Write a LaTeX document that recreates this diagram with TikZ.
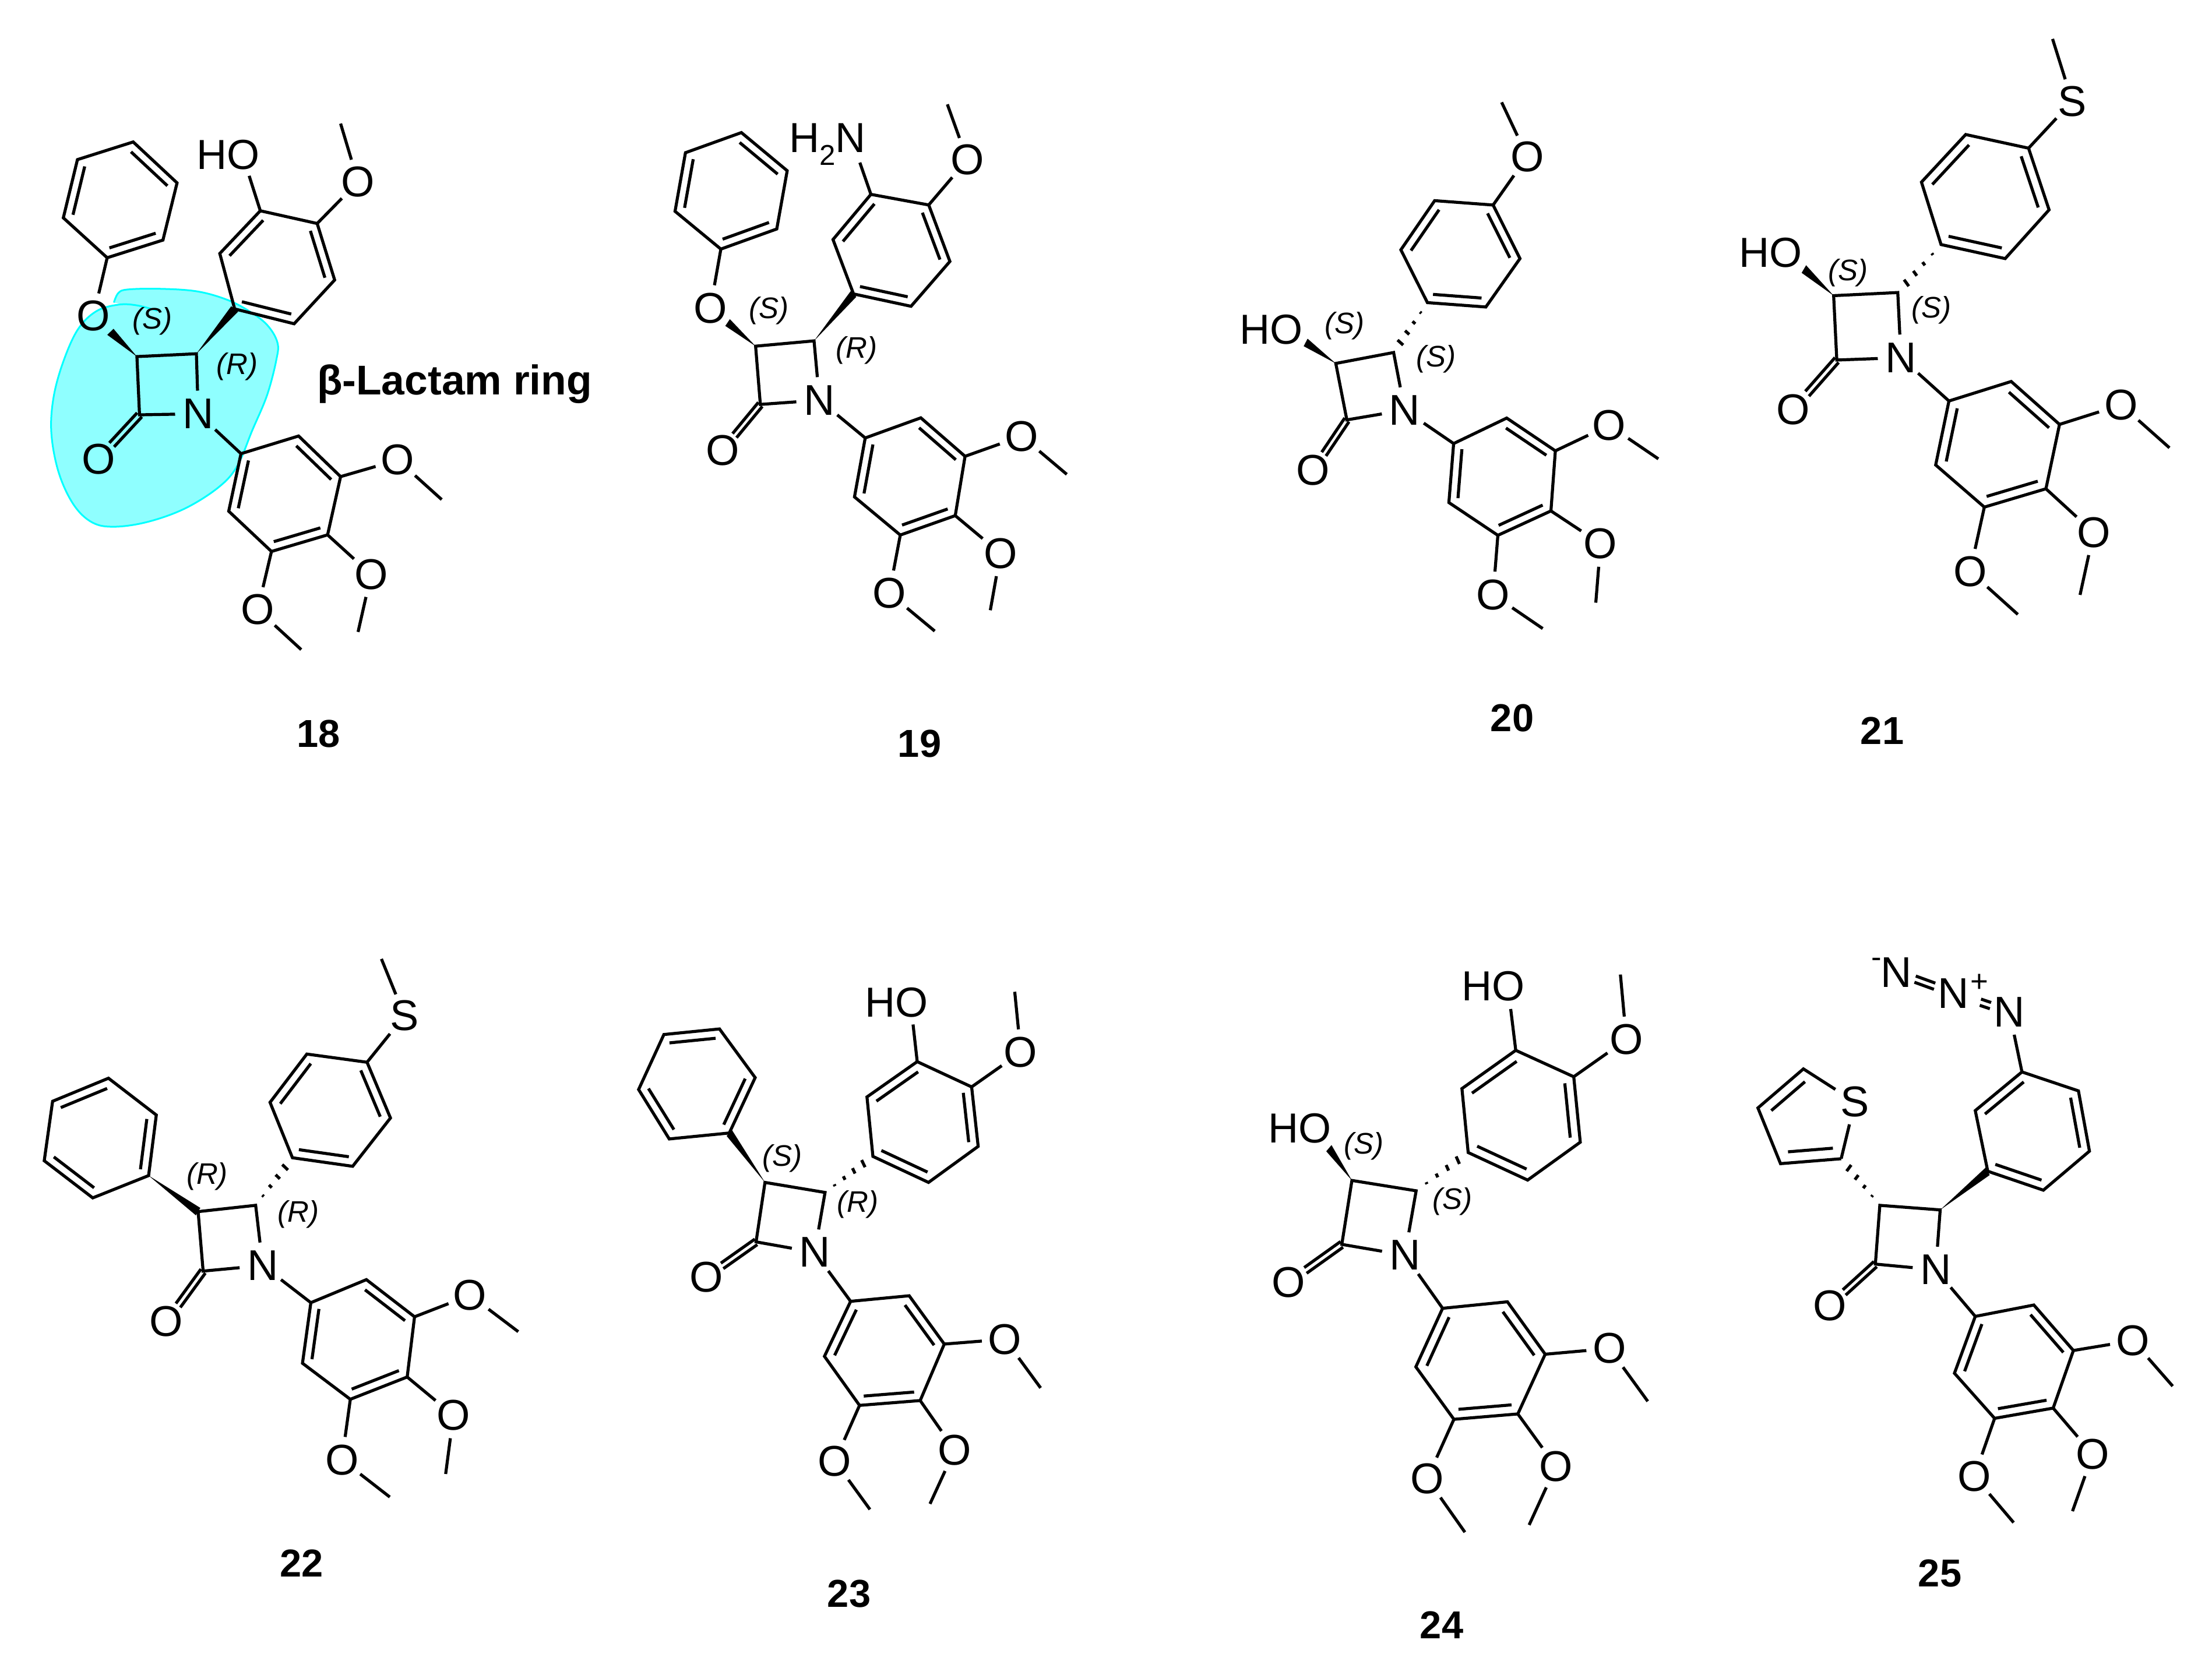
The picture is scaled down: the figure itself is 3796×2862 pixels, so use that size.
\documentclass[tikz,border=0pt]{standalone}
\usepackage{fontspec}
\setmainfont{Liberation Sans}
\usetikzlibrary{calc}
\definecolor{blobline}{RGB}{0,255,255}
\definecolor{blobfill}{RGB}{143,255,255}
\tikzset{
    bond/.style={line width=0.052cm},
    atom/.style={circle,inner sep=0pt,minimum size=0.78cm,font=\fontsize{21}{24}\selectfont},
    group/.style={inner sep=0pt,font=\fontsize{20.5}{24}\selectfont},
    stereo/.style={inner sep=0pt,font=\fontsize{14.5}{16}\selectfont\itshape},
    charge/.style={inner sep=0pt,font=\fontsize{15}{17}\selectfont},
    cpd/.style={inner sep=0pt,font=\fontsize{19}{22}\selectfont\bfseries}
}
%% two lines either side of the axis a-b
\newcommand{\dbond}[4]{
    \draw[bond] ($(#1)!#3!(#2)!.085cm!90:(#2)$) -- ($(#1)!#4!(#2)!.085cm!90:(#2)$);
    \draw[bond] ($(#1)!#3!(#2)!.085cm!-90:(#2)$) -- ($(#1)!#4!(#2)!.085cm!-90:(#2)$);
}
\newcommand{\innerbond}[4][.83]{\draw[bond] ($(#4)!#1!(#2)$) -- ($(#4)!#1!(#3)$);}
%% six-ring, double bonds on 1-2, 3-4, 5-6
\newcommand{\ringbonds}[1]{
    \coordinate (#1c) at ($(#11)!.5!(#14)$);
    \draw[bond] (#11) -- (#12) -- (#13) -- (#14) -- (#15) -- (#16) -- cycle;
    \innerbond{#11}{#12}{#1c}
    \innerbond{#13}{#14}{#1c}
    \innerbond{#15}{#16}{#1c}
}
\newcommand{\wedgebond}[3]{\fill (#1) -- ($(#1)!#3!(#2)!.12cm!90:(#1)$) -- ($(#1)!#3!(#2)!.12cm!-90:(#1)$) -- cycle;}
\newcommand{\hashbond}[2]{
    \foreach \f in {.2,.4,.6,.8} \draw[bond] ($(#1)!\f!(#2)!\f*.14cm!90:(#1)$) -- ($(#1)!\f!(#2)!\f*.14cm!-90:(#1)$);
}
%% lactam, N-aryl with its three OMe, second aryl
\newcommand{\corebonds}{
    \draw[bond] (N) -- (C2) -- (C3) -- (C4) -- (N);
    \dbond{C2}{O}{0}{.68}
    \draw[bond] (N) -- (a6);
    \ringbonds{a}
    \ringbonds{b}
    \draw[bond] (a2) -- (OA) -- (MeA);
    \draw[bond] (a3) -- (OB) -- (MeB);
    \draw[bond] (a4) -- (OC) -- (MeC);
}
\begin{document}
\begin{tikzpicture}[x=0.01cm,y=-0.01cm]
    \path[fill=white,use as bounding box] (0,0) rectangle (3796,2862);
    %% 18
    \begin{scope}[shift={(50,200)},xscale=0.6378,yscale=0.6059,name prefix=m18-]
        \draw[line width=0.03cm,draw=blobline,fill=blobfill] plot[smooth,tension=.6] coordinates {(345,550) (290,535) (240,533) (180,552) (130,605) (90,700) (65,800) (60,900) (80,1010) (120,1100) (170,1150) (230,1162) (320,1148) (420,1110) (510,1050) (560,990) (600,890) (640,790) (665,690) (668,640) (640,590) (590,550) (530,518) (450,495) (350,488) (265,490) (240,500) (228,527)};
        \foreach \n/\x/\y in {C3/290/680,C4/450/672,C2/297/845,a1/725/905,a2/838/1020,a3/803/1185,a4/652/1232,a5/537/1118,a6/570/955,MeA/1110/1085,MeB/885/1460,MeC/732/1510,b1/513/388,b2/622/267,b3/775/303,b4/822/463,b5/713/587,b6/553/545,MeD/838/20,HOe/592/168,c1/210/400,c2/360/350,c3/398/188,c4/280/72,c5/130/122,c6/92/287} \coordinate (\n) at (\x,\y);
        \node[atom] (N) at (455,842) {N};
        \foreach \n/\x/\y in {O/187/970,OA/992/973,OB/920/1297,OC/615/1397,OD/885/185,OE/173/565} \node[atom] (\n) at (\x,\y) {O};
        \node[group] (HO) at (535,108) {HO};
        \node[stereo] (st3) at (332,580) {(S)};
        \node[stereo] (st4) at (560,708) {(R)};
        \corebonds
        \ringbonds{c}
        \draw[bond] (b2) -- (HOe);
        \draw[bond] (b3) -- (OD) -- (MeD);
        \draw[bond] (c1) -- (OE);
        \wedgebond{C3}{OE}{.61}
        \wedgebond{C4}{b6}{1}
    \end{scope}
    %% 19
    \begin{scope}[shift={(1050,170)},xscale=0.5421,yscale=0.6059,name prefix=m19-]
        \foreach \n/\x/\y in {C3/455/700,C4/640/685,C2/470/865,a1/978/903,a2/1118/1012,a3/1087/1180,a4/913/1235,a5/768/1127,a6/802/960,MeA/1440/1063,MeB/1198/1448,MeC/1022/1507,b1/700/398,b2/820/270,b3/1003/300,b4/1070/460,b5/947/587,b6/765/552,MeD/1062/15,NHe/785/180,c1/345/425,c2/522/368,c3/555/203,c4/410/95,c5/233/152,c6/200/318} \coordinate (\n) at (\x,\y);
        \node[atom] (N) at (657,853) {N};
        \foreach \n/\x/\y in {O/350/995,OA/1297/955,OB/1230/1287,OC/878/1400,OD/1125/172,OE/312/592} \node[atom] (\n) at (\x,\y) {O};
        \node[group] (NH) at (683,128) {H\raisebox{-.3em}{\fontsize{14}{15}\selectfont 2}N};
        \node[stereo] (st3) at (497,600) {(S)};
        \node[stereo] (st4) at (775,712) {(R)};
        \corebonds
        \ringbonds{c}
        \draw[bond] (b2) -- (NHe);
        \draw[bond] (b3) -- (OD) -- (MeD);
        \draw[bond] (c1) -- (OE);
        \wedgebond{C3}{OE}{.62}
        \wedgebond{C4}{b6}{1}
    \end{scope}
    %% 20
    \begin{scope}[shift={(2050,130)},xscale=0.5421,yscale=0.625,name prefix=m20-]
        \foreach \n/\x/\y in {C3/447/790,C4/630/760,C2/482/945,a1/988/940,a2/1142/1030,a3/1128/1195,a4/960/1262,a5/805/1172,a6/820/1010,MeA/1468/1052,MeB/1270/1447,MeC/1102/1518,b1/653/478,b2/760/343,b3/945/355,b4/1030/502,b5/922/635,b6/737/623,MeD/972/73,HOc/293/697} \coordinate (\n) at (\x,\y);
        \node[atom] (N) at (665,918) {N};
        \foreach \n/\x/\y in {O/375/1083,OA/1312/960,OB/1285/1285,OC/945/1425,OD/1053/222} \node[atom] (\n) at (\x,\y) {O};
        \node[group] (HO) at (243,697) {HO};
        \node[stereo] (st3) at (475,687) {(S)};
        \node[stereo] (st4) at (765,778) {(S)};
        \corebonds
        \draw[bond] (b3) -- (OD) -- (MeD);
        \wedgebond{C3}{HOc}{.62}
        \hashbond{b6}{C4}
    \end{scope}
    %% 21
    \begin{scope}[shift={(2900,30)},xscale=0.5421,yscale=0.6696,name prefix=m21-]
        \foreach \n/\x/\y in {C3/455/713,C4/658/705,C2/465/878,a1/1017/933,a2/1170/1043,a3/1127/1208,a4/932/1255,a5/778/1147,a6/820/983,MeA/1518/1103,MeB/1235/1480,MeC/1038/1530,b1/733/422,b2/873/300,b3/1072/335,b4/1137/493,b5/998/618,b6/795/582,MeD/1148/55,HOc/303/603} \coordinate (\n) at (\x,\y);
        \node[atom] (N) at (668,872) {N};
        \foreach \n/\x/\y in {O/327/1005,OA/1365/993,OB/1278/1320,OC/887/1420} \node[atom] (\n) at (\x,\y) {O};
        \node[atom] (SD) at (1210,215) {S};
        \node[group] (HO) at (255,603) {HO};
        \node[stereo] (st3) at (500,655) {(S)};
        \node[stereo] (st4) at (765,750) {(S)};
        \corebonds
        \draw[bond] (b3) -- (SD) -- (MeD);
        \wedgebond{C3}{HOc}{.62}
        \hashbond{b6}{C4}
    \end{scope}
    %% 22
    \begin{scope}[shift={(30,1600)},xscale=0.574,yscale=0.6378,name prefix=m22-]
        \foreach \n/\x/\y in {C3/540/752,C4/712/735,C2/555/912,a1/1043/935,a2/1187/1035,a3/1165/1197,a4/995/1257,a5/852/1160,a6/877/997,MeA/1497/1075,MeB/1280/1458,MeC/1113/1520,b1/755/458,b2/865/328,b3/1045/350,b4/1115/500,b5/1002/630,b6/822/607,MeD/1088/72,c1/392/655,c2/415/492,c3/272/393,c4/105/455,c5/80/615,c6/225/715} \coordinate (\n) at (\x,\y);
        \node[atom] (N) at (733,897) {N};
        \foreach \n/\x/\y in {O/445/1048,OA/1353/977,OB/1303/1300,OC/970/1420} \node[atom] (\n) at (\x,\y) {O};
        \node[atom] (SD) at (1157,225) {S};
        \node[stereo] (st3) at (567,657) {(R)};
        \node[stereo] (st4) at (840,760) {(R)};
        \corebonds
        \ringbonds{c}
        \draw[bond] (b3) -- (SD) -- (MeD);
        \wedgebond{c1}{C3}{1}
        \hashbond{C4}{b6}
    \end{scope}
    %% 23
    \begin{scope}[shift={(1050,1650)},xscale=0.5102,yscale=0.6378,name prefix=m23-]
        \foreach \n/\x/\y in {C3/515/595,C4/717/622,C2/485/755,a1/1000/900,a2/1118/1030,a3/1037/1182,a4/833/1195,a5/715/1063,a6/803/915,MeA/1442/1148,MeB/1070/1460,MeC/868/1475,b1/858/365,b2/1027/270,b3/1210/338,b4/1232/498,b5/1065/595,b6/878/525,MeD/1355/82,HOe/1013/170,c1/395/462,c2/482/313,c3/362/182,c4/175/197,c5/90/345,c6/193/478} \coordinate (\n) at (\x,\y);
        \node[atom] (N) at (682,783) {N};
        \foreach \n/\x/\y in {O/317/850,OA/1322/1017,OB/1153/1315,OC/750/1345,OD/1375/245} \node[atom] (\n) at (\x,\y) {O};
        \node[group] (HO) at (957,110) {HO};
        \node[stereo] (st3) at (573,530) {(S)};
        \node[stereo] (st4) at (827,655) {(R)};
        \corebonds
        \ringbonds{c}
        \draw[bond] (b2) -- (HOe);
        \draw[bond] (b3) -- (OD) -- (MeD);
        \wedgebond{C3}{c1}{1}
        \hashbond{C4}{b6}
    \end{scope}
    %% 24
    \begin{scope}[shift={(2120,1630)},xscale=0.5102,yscale=0.6569,name prefix=m24-]
        \foreach \n/\x/\y in {C3/392/603,C4/608/630,C2/358/770,a1/915/920,a2/1042/1057,a3/950/1213,a4/735/1227,a5/607/1090,a6/697/937,MeA/1387/1180,MeB/988/1503,MeC/772/1522,b1/762/363,b2/943/263,b3/1138/332,b4/1160/503,b5/983/602,b6/783/530,MeD/1295/65,HOe/926/155,HOc/267/467} \coordinate (\n) at (\x,\y);
        \node[atom] (N) at (570,798) {N};
        \foreach \n/\x/\y in {O/178/870,OA/1258/1042,OB/1078/1350,OC/645/1382,OD/1315/235} \node[atom] (\n) at (\x,\y) {O};
        \node[group] (HO) at (868,95) {HO};
        \node[group] (HOb) at (217,467) {HO};
        \node[stereo] (st3) at (433,513) {(S)};
        \node[stereo] (st4) at (730,658) {(S)};
        \corebonds
        \draw[bond] (b2) -- (HOe);
        \draw[bond] (b3) -- (OD) -- (MeD);
        \wedgebond{C3}{HOc}{.62}
        \hashbond{C4}{b6}
    \end{scope}
    %% 25
    \begin{scope}[shift={(2980,1620)},xscale=0.5102,yscale=0.6505,name prefix=m25-]
        \foreach \n/\x/\y in {C3/482/690,C4/685/702,C2/467/845,a1/1000/953,a2/1133/1073,a3/1065/1225,a4/868/1252,a5/733/1133,a6/803/983,MeA/1467/1167,MeB/1130/1497,MeC/932/1527,b1/803/440,b2/960/338,b3/1150/388,b4/1187/547,b5/1032/650,b6/845/600,t1/352/567,t2/148/580,t3/72/433,t4/225/330,tc/245/460} \coordinate (\n) at (\x,\y);
        \node[atom] (N) at (670,860) {N};
        \foreach \n/\x/\y in {O/313/955,OA/1333/1047,OB/1198/1347,OC/800/1405} \node[atom] (\n) at (\x,\y) {O};
        \node[atom] (ST) at (398,417) {S};
        \node[atom] (NA) at (537,75) {N};
        \node[atom] (NB) at (730,130) {N};
        \node[atom] (NC) at (918,180) {N};
        \node[charge] (minus) at (470,50) {-};
        \node[charge] (plus) at (818,103) {+};
        \corebonds
        \draw[bond] (t1) -- (t2) -- (t3) -- (t4) -- (ST) -- (t1);
        \innerbond[.74]{t1}{t2}{tc}
        \innerbond[.74]{t3}{t4}{tc}
        \draw[bond] (b2) -- (NC);
        \dbond{NA}{NB}{.33}{.67}
        \dbond{NB}{NC}{.48}{.66}
        \wedgebond{C4}{b6}{1}
        \hashbond{C3}{t1}
    \end{scope}
    %% labels
    \node[cpd,font=\fontsize{20.3}{22}\selectfont\bfseries] (lactam) at (780,659) {β-Lactam ring};
    \foreach \t/\x/\y in {18/547/1259,19/1578/1276,20/2595/1232,21/3230/1254,22/518/2683,23/1457/2736,24/2474/2789,25/3329/2700} \node[cpd] (n\t) at (\x,\y) {\t};
\end{tikzpicture}
\end{document}
